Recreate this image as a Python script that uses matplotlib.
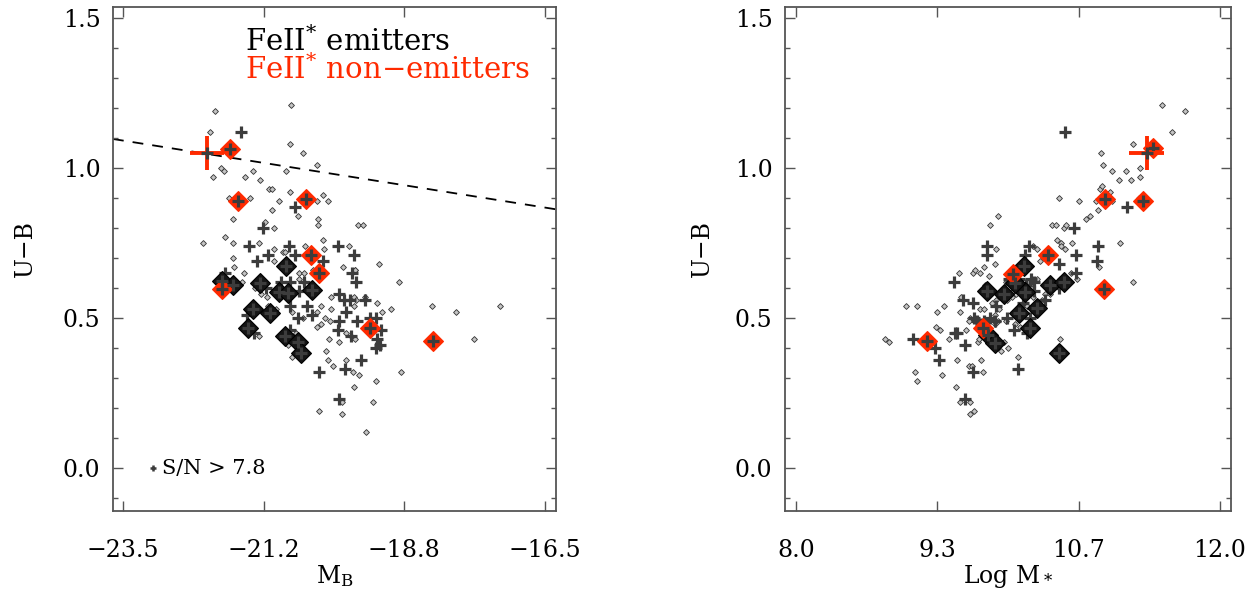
import matplotlib
matplotlib.use("Agg")
import matplotlib.pyplot as plt
from matplotlib.ticker import FixedLocator, MultipleLocator

plt.rcParams['font.family'] = ['DejaVu Serif']
plt.rcParams['mathtext.fontset'] = 'dejavuserif'

# left panel, whole sample
mb_all = [-21.97, -20.72, -22.05, -20.73, -20.52, -20.28, -21.88, -21.83, -22.00, -21.34,
          -20.80, -21.48, -21.23, -21.08, -21.03, -21.74, -21.39, -20.73, -20.91, -21.02,
          -20.28, -20.19, -20.10, -20.59, -20.27, -20.27, -21.67, -21.14, -21.00, -19.60,
          -19.52, -21.80, -20.19, -22.18, -21.68, -21.24, -20.99, -20.48, -20.16, -19.75,
          -21.68, -20.99, -20.85, -20.81, -19.25, -19.85, -19.65, -21.65, -21.49, -21.52,
          -21.31, -21.11, -21.21, -20.96, -20.58, -20.49, -20.34, -19.65, -18.92, -20.05,
          -19.66, -19.48, -19.29, -20.05, -20.22, -19.06, -19.21, -18.38, -17.98, -17.25,
          -17.67, -20.28, -20.22, -20.15, -20.07, -20.08, -19.91, -19.65, -20.51, -20.69,
          -20.28, -21.24, -20.77, -20.63, -20.69, -20.13, -20.10, -20.01, -19.80, -19.69,
          -19.58, -18.89, -19.30, -19.66, -19.35, -19.87, -20.25, -19.87, -19.47, -20.58,
          -20.49, -21.10, -19.66, -19.64, -19.80, -19.71]
ub_all_l = [1.19, 1.21, 1.12, 1.08, 1.05, 1.01, 1.00, 0.99, 0.97, 0.99,
            0.99, 0.97, 0.96, 0.93, 0.93, 0.90, 0.90, 0.92, 0.89, 0.86,
            0.89, 0.91, 0.89, 0.84, 0.83, 0.81, 0.83, 0.82, 0.80, 0.81,
            0.81, 0.77, 0.76, 0.75, 0.75, 0.75, 0.73, 0.74, 0.73, 0.74,
            0.70, 0.69, 0.72, 0.72, 0.68, 0.67, 0.66, 0.67, 0.65, 0.62,
            0.60, 0.57, 0.58, 0.53, 0.65, 0.65, 0.66, 0.66, 0.62, 0.57,
            0.57, 0.57, 0.55, 0.53, 0.54, 0.53, 0.52, 0.54, 0.52, 0.54,
            0.43, 0.47, 0.48, 0.50, 0.49, 0.43, 0.42, 0.43, 0.50, 0.52,
            0.52, 0.44, 0.41, 0.45, 0.37, 0.39, 0.36, 0.34, 0.36, 0.32,
            0.31, 0.32, 0.29, 0.27, 0.22, 0.22, 0.19, 0.18, 0.12, 0.63,
            0.62, 0.54, 0.54, 0.56, 0.45, 0.44]

# left panel, S/N > 7.8
mb_sn = [-21.55, -20.64, -21.18, -21.41, -20.74, -21.09, -21.27, -20.64, -20.18, -19.93,
         -19.66, -21.81, -19.70, -19.63, -20.73, -20.88, -20.50, -20.58, -19.91, -19.84,
         -19.74, -19.49, -20.73, -20.45, -19.80, -20.59, -20.36, -21.45, -19.61, -19.40,
         -19.31, -19.92, -19.94, -19.72, -19.22, -19.29, -19.23, -19.30, -20.73, -21.32,
         -19.55, -20.24, -19.82, -19.91, -21.12]
ub_sn_l = [1.12, 0.87, 0.80, 0.74, 0.74, 0.71, 0.69, 0.71, 0.69, 0.74,
           0.71, 0.65, 0.65, 0.62, 0.62, 0.62, 0.62, 0.59, 0.58, 0.56,
           0.56, 0.56, 0.54, 0.54, 0.52, 0.50, 0.51, 0.51, 0.49, 0.50,
           0.50, 0.49, 0.46, 0.44, 0.46, 0.43, 0.41, 0.40, 0.46, 0.45,
           0.36, 0.32, 0.33, 0.23, 0.60]

# FeII* emitters
mb_em = [-20.80, -21.85, -21.68, -21.22, -20.91, -20.77, -20.37, -21.34, -21.06, -21.43,
         -20.82, -20.59, -20.55]
ub_em_l = [0.674, 0.624, 0.610, 0.618, 0.588, 0.582, 0.593, 0.531, 0.516, 0.466,
           0.440, 0.419, 0.382]

# FeII* non-emitters
mb_non = [-21.73, -21.60, -20.47, -20.38, -20.25, -21.85, -19.40, -18.36]
ub_non_l = [1.064, 0.890, 0.898, 0.709, 0.649, 0.597, 0.466, 0.423]

# stack point with errors
mb_stack, mb_stack_err = -22.10, 0.28
ub_stack, ub_stack_err = 1.051, 0.057

# right panel, whole sample
lm_all = [11.55, 11.18, 10.88, 10.90, 10.98, 11.11, 11.25, 11.25, 11.16, 11.05,
          10.87, 10.89, 10.96, 10.83, 10.98, 10.85, 11.24, 10.48, 10.67, 10.74,
          10.77, 9.91, 9.83, 10.42, 10.45, 10.53, 10.55, 10.46, 10.50, 10.50,
          10.54, 10.60, 11.06, 9.89, 10.86, 10.27, 10.24, 10.30, 9.88, 9.77,
          11.18, 11.45, 11.67,
          9.54, 9.67, 9.69, 9.74, 9.82, 9.98, 10.00, 9.78, 9.04, 9.14,
          9.33, 9.40, 9.55, 9.56, 9.64, 9.63, 9.32, 9.36, 8.84, 8.88,
          9.44, 9.60, 9.72, 9.73, 9.52, 9.75, 9.63, 9.66, 9.76, 9.93,
          10.00, 9.96, 10.09, 10.49, 9.12, 9.14, 9.38, 9.51, 9.55, 9.64,
          9.64, 9.68, 9.80, 9.85, 9.89, 9.74, 9.77, 9.92, 9.88, 9.99,
          10.04, 10.08, 10.05, 10.22, 10.24, 10.27, 10.32, 10.35, 10.40, 10.49,
          10.59, 10.65, 9.88, 9.91, 10.11, 10.07, 9.98, 10.14, 10.18]
ub_all_r = [1.12, 1.08, 1.05, 1.01, 0.99, 0.99, 1.00, 0.97, 0.96, 0.96,
            0.93, 0.94, 0.92, 0.89, 0.89, 0.86, 0.90, 0.90, 0.89, 0.83,
            0.84, 0.84, 0.81, 0.81, 0.81, 0.80, 0.81, 0.76, 0.75, 0.74,
            0.73, 0.75, 0.75, 0.73, 0.67, 0.73, 0.74, 0.69, 0.68, 0.67,
            0.62, 1.21, 1.19,
            0.65, 0.65, 0.66, 0.65, 0.64, 0.62, 0.62, 0.61, 0.54, 0.54,
            0.52, 0.54, 0.52, 0.57, 0.50, 0.49, 0.47, 0.46, 0.43, 0.42,
            0.43, 0.46, 0.42, 0.43, 0.36, 0.36, 0.34, 0.34, 0.32, 0.39,
            0.40, 0.42, 0.37, 0.43, 0.32, 0.29, 0.31, 0.27, 0.22, 0.22,
            0.18, 0.19, 0.57, 0.55, 0.56, 0.53, 0.53, 0.53, 0.51, 0.56,
            0.57, 0.58, 0.59, 0.60, 0.57, 0.63, 0.56, 0.58, 0.58, 0.63,
            0.65, 0.63, 0.48, 0.49, 0.47, 0.48, 0.49, 0.54, 0.54]

# right panel, S/N > 7.8
lm_sn = [10.54, 11.12, 10.62, 10.85, 10.84, 10.64, 10.48, 9.80, 9.80, 10.20,
         10.16, 9.49, 9.58, 9.67, 9.89, 9.88, 9.99, 9.68, 9.71, 9.50,
         9.52, 9.59, 9.10, 9.31, 9.35, 9.67, 10.09, 9.59, 10.06, 10.18,
         10.14, 10.21, 10.25, 10.25, 10.22, 10.35, 10.48, 10.64, 10.10, 10.03,
         10.01, 10.17, 9.77, 9.75, 9.83]
ub_sn_r = [1.12, 0.87, 0.80, 0.74, 0.69, 0.71, 0.68, 0.74, 0.71, 0.74,
           0.71, 0.62, 0.56, 0.55, 0.54, 0.49, 0.50, 0.50, 0.49, 0.45,
           0.45, 0.41, 0.43, 0.40, 0.36, 0.32, 0.33, 0.23, 0.46, 0.45,
           0.55, 0.50, 0.59, 0.62, 0.63, 0.56, 0.60, 0.65, 0.63, 0.62,
           0.63, 0.61, 0.49, 0.48, 0.50]

lm_em = [10.15, 9.80, 9.96, 10.16, 10.40, 10.53, 10.07, 10.10, 10.27, 10.21,
         9.81, 9.88, 10.48]
ub_em_r = [0.674, 0.591, 0.580, 0.588, 0.610, 0.621, 0.618, 0.516, 0.532, 0.466,
           0.443, 0.416, 0.384]

lm_non = [10.92, 11.27, 10.38, 10.05, 10.91, 11.37, 9.76, 9.24]
ub_non_r = [0.897, 0.891, 0.709, 0.648, 0.598, 1.066, 0.466, 0.424]

lm_stack, lm_stack_err = 11.31, 0.166

red = '#ff2a00'
plus_col = '#3c3c3c'
frame_col = '#555555'


def draw_panel(ax, x_all, y_all, x_sn, y_sn, x_em, y_em, x_non, y_non, x_st, x_st_err):
    ax.plot(x_all, y_all, 'D', ms=3.0, mfc='#c4c4c4', mec='#333333', mew=0.6, ls='none', zorder=2)
    ax.plot(x_sn, y_sn, '+', ms=8, mew=2.3, color=plus_col, ls='none', zorder=3)
    ax.plot(x_em, y_em, 'D', ms=10.5, mfc='#151515', mec='#000000', mew=0.8, ls='none', zorder=4)
    ax.plot(x_non, y_non, 'D', ms=10.5, mfc=red, mec=red, mew=0.8, ls='none', zorder=4)
    ax.plot(x_em + x_non, y_em + y_non, '+', ms=8, mew=2.3, color=plus_col, ls='none', zorder=5)
    ax.errorbar([x_st], [ub_stack], xerr=[x_st_err], yerr=[ub_stack_err], fmt='none',
                ecolor=red, elinewidth=2.8, capsize=0, zorder=6)
    ax.plot([x_st], [ub_stack], '+', ms=8, mew=2.3, color=plus_col, zorder=7)


def style_axes(ax, xlim, xticks, xlabel):
    ax.set_xlim(xlim)
    ax.set_ylim(-0.143, 1.537)
    ax.xaxis.set_major_locator(FixedLocator(xticks))
    ax.set_xticklabels([('%.1f' % t).replace('-', '\u2212') for t in xticks])
    ax.yaxis.set_minor_locator(MultipleLocator(0.1))
    ax.set_yticks([0.0, 0.5, 1.0, 1.5])
    ax.set_yticklabels(['0.0', '0.5', '1.0', '1.5'])
    ax.tick_params(which='both', direction='in', top=True, right=True, color=frame_col,
                   width=1.0, labelsize=17)
    ax.tick_params(axis='x', which='major', length=7, pad=20)
    ax.tick_params(axis='y', which='major', length=7, pad=9)
    ax.tick_params(which='minor', length=3.5)
    for s in ax.spines.values():
        s.set_color(frame_col)
        s.set_linewidth(1.3)
    ax.set_xlabel(xlabel, fontsize=17, labelpad=1)
    ax.set_ylabel('U\u2212B', fontsize=17)


fig = plt.figure(figsize=(12.58, 6.02), dpi=100)
ax1 = fig.add_axes([0.0898, 0.1512, 0.3521, 0.8372])
ax2 = fig.add_axes([0.624, 0.1512, 0.3545, 0.8372])

draw_panel(ax1, mb_all, ub_all_l, mb_sn, ub_sn_l, mb_em, ub_em_l, mb_non, ub_non_l,
           mb_stack, mb_stack_err)
draw_panel(ax2, lm_all, ub_all_r, lm_sn, ub_sn_r, lm_em, ub_em_r, lm_non, ub_non_r,
           lm_stack, lm_stack_err)

# dividing line in the colour-magnitude plane
xl = (-23.666, -16.318)
ax1.plot(xl, [1.097, 1.097 - 0.0319 * (xl[1] - xl[0])], ls=(0, (6, 5)), color='black',
         lw=1.3, zorder=1)

style_axes(ax1, xl, [-23.5, -23.5 + 7 / 3, -23.5 + 14 / 3, -16.5], r'M$_{\rm B}$')
style_axes(ax2, (7.896, 12.104), [8.0, 8.0 + 4 / 3, 8.0 + 8 / 3, 12.0], r'Log M$_*$')
ax1.yaxis.set_label_coords(-0.172, 0.52)
ax2.yaxis.set_label_coords(-0.16, 0.52)

ax1.text(-21.48, 1.42, r'FeII$^{*}$ emitters', fontsize=21, color='black', va='center')
ax1.text(-21.48, 1.327, r'FeII$^{*}$ non$-$emitters', fontsize=21, color=red, va='center')

ax1.plot([-23.0], [0.0], '+', ms=5, mew=1.8, color=plus_col)
ax1.text(-22.85, 0.0, 'S/N > 7.8', fontsize=15, va='center')

fig.savefig('out.png', dpi=100)
